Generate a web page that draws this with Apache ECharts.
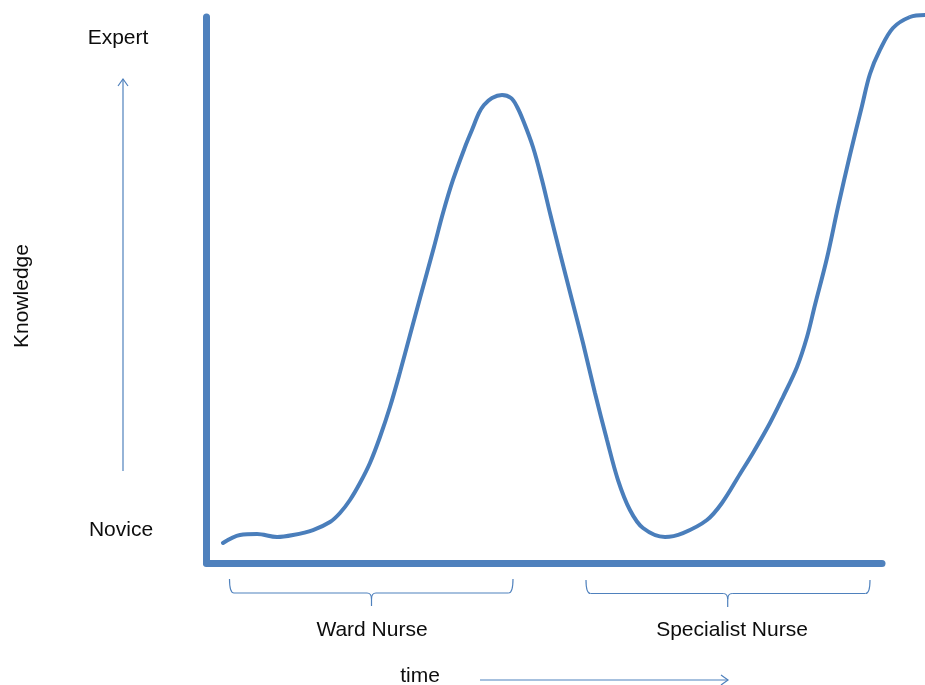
<!DOCTYPE html>
<html>
<head>
<meta charset="utf-8">
<script src="https://cdn.jsdelivr.net/npm/echarts@6/dist/echarts.min.js"></script>
<style>html,body{margin:0;padding:0;background:#fff}#c{width:925px;height:685px}</style>
</head>
<body>
<div id="c"></div>
<script>
// time (0-100 along the drawn axis) and knowledge (0-100)
const timeValues = [2.44, 4.96, 7.48, 10.44, 12.81, 15.77, 18.28, 19.76, 21.24, 22.72, 24.20, 25.68, 27.16, 28.65, 30.13, 31.61, 33.68, 35.01, 36.49, 38.27, 39.30, 40.34, 41.08, 42.27, 43.75, 45.08, 45.97, 46.85, 48.33, 49.67, 50.85, 52.33, 54.11, 55.74, 57.51, 59.29, 60.92, 62.69, 64.62, 67.88, 70.54, 74.09, 76.31, 78.98, 80.90, 83.42, 85.34, 87.42, 88.90, 90.08, 91.86, 93.49, 95.26, 97.04, 98.22, 99.70, 101.63, 104.15, 106.37];
const knowledgeValues = [3.66, 5.13, 5.31, 4.76, 5.13, 6.04, 7.51, 9.16, 11.54, 14.65, 18.32, 23.08, 28.57, 34.98, 41.76, 48.53, 57.88, 64.10, 70.15, 76.19, 79.30, 82.42, 83.88, 85.16, 85.71, 85.16, 83.57, 81.14, 76.19, 70.15, 64.10, 56.78, 48.17, 40.29, 31.14, 22.53, 15.20, 9.71, 6.41, 4.76, 5.49, 7.88, 10.99, 16.30, 20.15, 25.64, 30.40, 35.90, 41.39, 47.25, 55.86, 65.20, 74.73, 83.70, 89.56, 93.96, 97.99, 100.0, 100.37];
const levelLabels = ['Expert', 'Novice'];
const phaseLabels = ['Ward Nurse', 'Specialist Nurse'];
const axisTitles = ['Knowledge', 'time'];

const blue = '#4f81bd';
const font = '"Liberation Sans", Arial, sans-serif';
const chart = echarts.init(document.getElementById('c'));
const curve = timeValues.map((t, i) => [t, knowledgeValues[i]]);

function txt(x, y, s, rot) {
  return {type: 'text', x: x, y: y, rotation: rot || 0,
    style: {text: s, fill: '#0d0d0d', font: '21px ' + font, align: 'center', verticalAlign: 'middle'}};
}
const thin = {stroke: blue, lineWidth: 1.2, fill: null};
function bz(x1, y1, cx, cy, x2, y2) {
  return {type: 'bezierCurve', shape: {x1: x1, y1: y1, cpx1: cx, cpy1: cy, x2: x2, y2: y2}, style: thin};
}
function ln(x1, y1, x2, y2) {
  return {type: 'line', shape: {x1: x1, y1: y1, x2: x2, y2: y2}, style: thin};
}
function brace(x0, xc, x1, yTop, yMid, yTip) {
  const r = 4.5;
  return [
    bz(x0, yTop, x0, yMid, x0 + r, yMid),
    ln(x0 + r, yMid, xc - r, yMid),
    bz(xc - r, yMid, xc, yMid, xc, yMid + 6),
    ln(xc, yMid + 6, xc, yTip),
    bz(xc, yMid + 6, xc, yMid, xc + r, yMid),
    ln(xc + r, yMid, x1 - r, yMid),
    bz(x1 - r, yMid, x1, yMid, x1, yTop)
  ];
}
const hidden = {axisLine: {show: false}, axisTick: {show: false}, axisLabel: {show: false}, splitLine: {show: false}};

chart.setOption({
  animation: false,
  grid: [
    {left: 206.5, top: 17, right: 43, bottom: 122},
    {left: 206.5, top: 17, right: 0, bottom: 122}
  ],
  xAxis: [
    {type: 'value', gridIndex: 0, min: 0, max: 100,
      axisLine: {lineStyle: {color: blue, width: 7}},
      axisTick: {show: false}, axisLabel: {show: false}, splitLine: {show: false}},
    Object.assign({type: 'value', gridIndex: 1, min: 0, max: 106.37}, hidden)
  ],
  yAxis: [
    {type: 'value', gridIndex: 0, min: 0, max: 100,
      axisLine: {show: true, lineStyle: {color: blue, width: 7}},
      axisTick: {show: false}, axisLabel: {show: false}, splitLine: {show: false}},
    Object.assign({type: 'value', gridIndex: 1, min: 0, max: 100}, hidden)
  ],
  series: [{
    type: 'line', xAxisIndex: 1, yAxisIndex: 1, data: curve, smooth: 0.35, clip: false,
    showSymbol: false, symbol: 'none',
    lineStyle: {color: '#4a7ebb', width: 4, cap: 'round'}
  }],
  graphic: [
    txt(118, 38, levelLabels[0]),
    txt(121, 530, levelLabels[1]),
    txt(22, 296, axisTitles[0], Math.PI / 2),
    txt(372, 630, phaseLabels[0]),
    txt(732, 630, phaseLabels[1]),
    txt(420, 676, axisTitles[1]),
    ln(123, 471, 123, 79),
    {type: 'polyline', shape: {points: [[118, 86], [123, 79], [128, 86]]}, style: thin},
    ln(480, 680, 728, 680),
    {type: 'polyline', shape: {points: [[721, 675], [728, 680], [721, 685]]}, style: thin}
  ].concat(brace(229.5, 371.5, 513, 579, 593, 606), brace(586, 727.7, 870, 580, 593.5, 607))
});
</script>
</body>
</html>
